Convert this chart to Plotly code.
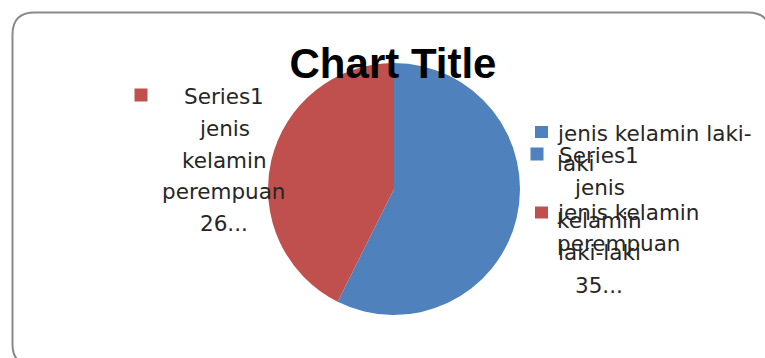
import plotly.graph_objects as go

# ---- data ----
series_name = "Series1"
categories = ["jenis kelamin laki-laki", "jenis kelamin perempuan"]
values = [35, 26]
colors = ["#4F81BD", "#C0504D"]
legend_lines = [["jenis kelamin laki-", "laki"], ["jenis kelamin", "perempuan"]]
chart_title = "Chart Title"

W, H = 765, 358


def px(x):
    return x / W


def py(y):
    return 1 - y / H


fig = go.Figure()

# pie centre (394,189), radius 126 px
cx, cy, r = 394, 189, 126
fig.add_trace(go.Pie(
    labels=categories,
    values=values,
    marker=dict(colors=colors, line=dict(width=0)),
    sort=False,
    direction="clockwise",
    rotation=0,
    textinfo="none",
    hoverinfo="label+value",
    domain=dict(x=[px(cx - r), px(cx + r)], y=[py(cy + r), py(cy - r)]),
    showlegend=False,
))

annotations = []
shapes = []

label_font = dict(family="DejaVu Sans", size=21.5, color="#262626")

# data labels: (centre x, first line y, line step, key square centre)
label_pos = [
    (599, 155, 32.5, (537, 154)),   # laki-laki
    (224, 97, 31.5, (141, 95)),     # perempuan
]
for i, (cat, val) in enumerate(zip(categories, values)):
    lines = [series_name] + cat.split() + [f"{val}..."]
    lx, ly, step, (sx, sy) = label_pos[i]
    for k, t in enumerate(lines):
        annotations.append(dict(
            x=px(lx), y=py(ly + k * step), xref="paper", yref="paper",
            text=t, showarrow=False, xanchor="center", yanchor="middle",
            font=label_font,
        ))
    shapes.append(dict(type="rect", xref="paper", yref="paper",
                       x0=px(sx - 6.5), x1=px(sx + 6.5),
                       y0=py(sy + 6.5), y1=py(sy - 6.5),
                       fillcolor=colors[i], line=dict(width=0)))

# legend
legend_pos = [(133, (541.5, 132)), (213, (541.5, 212.5))]
for i, lines in enumerate(legend_lines):
    ly, (sx, sy) = legend_pos[i]
    for k, t in enumerate(lines):
        annotations.append(dict(
            x=px(555), y=py(ly + k * 30), xref="paper", yref="paper",
            text=t, showarrow=False, xanchor="left", yanchor="middle",
            font=label_font,
        ))
    shapes.append(dict(type="rect", xref="paper", yref="paper",
                       x0=px(sx - 6.5), x1=px(sx + 6.5),
                       y0=py(sy + 6), y1=py(sy - 6),
                       fillcolor=colors[i], line=dict(width=0)))

# rounded frame
x0, y0, x1, y1, rr = 12.5, 12.5, 770, 366, 22
pts = [
    ("M", (x0 + rr, y0)), ("L", (x1 - rr, y0)), ("Q", (x1, y0), (x1, y0 + rr)),
    ("L", (x1, y1 - rr)), ("Q", (x1, y1), (x1 - rr, y1)),
    ("L", (x0 + rr, y1)), ("Q", (x0, y1), (x0, y1 - rr)),
    ("L", (x0, y0 + rr)), ("Q", (x0, y0), (x0 + rr, y0)),
]
path = ""
for cmd, *ps in pts:
    path += cmd + " " + " ".join(f"{px(a):.5f},{py(b):.5f}" for a, b in ps) + " "
path += "Z"
shapes.insert(0, dict(type="path", xref="paper", yref="paper", path=path,
                      line=dict(color="#8a8a8a", width=2), fillcolor="rgba(0,0,0,0)",
                      layer="below"))

fig.update_layout(
    width=W, height=H,
    margin=dict(l=0, r=0, t=0, b=0),
    paper_bgcolor="white",
    plot_bgcolor="white",
    title=dict(text=f"<b>{chart_title}</b>", x=px(393), y=py(63),
               xanchor="center", yanchor="middle",
               font=dict(family="Liberation Sans", size=42, color="black")),
    annotations=annotations,
    shapes=shapes,
    showlegend=False,
)

fig.write_html(
    "out.html",
    config={"displayModeBar": False},
    post_script="document.body.style.margin='0';document.body.style.overflow='hidden';",
)
